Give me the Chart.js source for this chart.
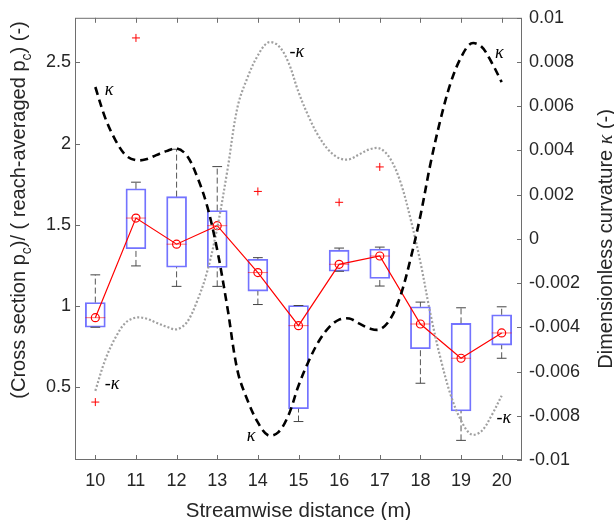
<!DOCTYPE html>
<html>
<head>
<meta charset="utf-8">
<script src="https://cdn.jsdelivr.net/npm/chart.js@4.4.1/dist/chart.umd.min.js"></script>
<style>
  html, body { margin: 0; padding: 0; background: #fff; }
  #wrap { width: 614px; height: 520px; }
</style>
</head>
<body>
<div id="wrap"><canvas id="pcChart" width="614" height="520"></canvas></div>
<script>
// streamwise stations (m)
const dist = [10, 11, 12, 13, 14, 15, 16, 17, 18, 19, 20];

// box plot statistics, normalised p_c
const q1 = [0.868, 1.352, 1.238, 1.236, 1.091, 0.366, 1.213, 1.169, 0.736, 0.352, 0.758];
const q3 = [1.020, 1.721, 1.673, 1.587, 1.287, 1.002, 1.343, 1.350, 0.994, 0.892, 0.945];
const medians = [0.927, 1.541, 1.380, 1.494, 1.205, 0.878, 1.256, 1.307, 0.888, 0.677, 0.833];
const whiskLo = [0.868, 1.246, 1.120, 1.120, 1.008, 0.287, 1.213, 1.122, 0.523, 0.171, 0.677];
const whiskHi = [1.191, 1.762, 1.965, 1.858, 1.297, 1.002, 1.356, 1.362, 1.023, 0.988, 0.994];

// outliers
const outX = [10, 11, 14, 16, 17];
const outY = [0.407, 2.651, 1.705, 1.638, 1.856];

// curvature along the reach
const kx = [10, 10.25, 10.5, 10.75, 11, 11.25, 11.5, 11.75, 12, 12.25, 12.5, 12.75, 13, 13.25, 13.5, 13.75,
  14, 14.25, 14.5, 14.75, 15, 15.25, 15.5, 15.75, 16, 16.25, 16.5, 16.75, 17, 17.25, 17.5, 17.75,
  18, 18.25, 18.5, 18.75, 19, 19.25, 19.5, 19.75, 20];
const kappa = [0.00687, 0.00544, 0.00445, 0.00378, 0.00356, 0.00360, 0.00379, 0.00397, 0.00409, 0.00378,
  0.00284, 0.00150, -0.00050, -0.00310, -0.00597, -0.00732, -0.00830, -0.00888, -0.00875, -0.00799,
  -0.00664, -0.00553, -0.00463, -0.00400, -0.00365, -0.00360, -0.00383, -0.00405, -0.00409, -0.00365,
  -0.00262, -0.00096, 0.00105, 0.00342, 0.00544, 0.00709, 0.00821, 0.00884, 0.00870, 0.00799, 0.00709];
const negKappa = [-0.00687, -0.00544, -0.00445, -0.00378, -0.00356, -0.00360, -0.00379, -0.00397, -0.00409, -0.00378,
  -0.00284, -0.00150, 0.00050, 0.00310, 0.00597, 0.00732, 0.00830, 0.00888, 0.00875, 0.00799,
  0.00664, 0.00553, 0.00463, 0.00400, 0.00365, 0.00360, 0.00383, 0.00405, 0.00409, 0.00365,
  0.00262, 0.00096, -0.00105, -0.00342, -0.00544, -0.00709, -0.00821, -0.00884, -0.00870, -0.00799, -0.00709];

// curve tags (data coordinates on the curvature axis)
const tagText = ['\u03BA', '-\u03BA', '\u03BA', '-\u03BA', '\u03BA', '-\u03BA'];
const tagX = [10.34, 14.96, 19.94, 10.41, 13.83, 20.05];
const tagK = [0.0067, 0.00843, 0.00839, -0.00657, -0.00893, -0.00812];

// tick labels
const xTicks = [10, 11, 12, 13, 14, 15, 16, 17, 18, 19, 20];
const leftTicks = [0.5, 1, 1.5, 2, 2.5];
const rightTicks = [-0.01, -0.008, -0.006, -0.004, -0.002, 0, 0.002, 0.004, 0.006, 0.008, 0.01];

const FONT = '"Liberation Sans", Arial, Helvetica, sans-serif';
const KFONT = '"Liberation Serif", "DejaVu Serif", serif';
const BOX_HALF = 0.245;
const CAP_HALF = 0.12;

const gap = d => ({ x: d, y: null });

const boxData = dist.map((d, i) => ({ x: d, y: [q1[i], q3[i]] }));
const whiskData = dist.flatMap((d, i) => [
  { x: d, y: q3[i] }, { x: d, y: whiskHi[i] }, gap(d),
  { x: d, y: whiskLo[i] }, { x: d, y: q1[i] }, gap(d)
]);
const capData = dist.flatMap((d, i) => [
  { x: d - CAP_HALF, y: whiskHi[i] }, { x: d + CAP_HALF, y: whiskHi[i] }, gap(d),
  { x: d - CAP_HALF, y: whiskLo[i] }, { x: d + CAP_HALF, y: whiskLo[i] }, gap(d)
]);
const medData = dist.flatMap((d, i) => [
  { x: d - BOX_HALF, y: medians[i] }, { x: d + BOX_HALF, y: medians[i] }, gap(d)
]);

function drawRich(ctx, parts, size) {
  // centred on 0 along the baseline; sub = subscript, it = italic kappa
  const fontOf = p => p.it ? 'italic ' + size + 'px ' + KFONT
    : (p.sub ? size * 0.7 : size) + 'px ' + FONT;
  let w = 0;
  parts.forEach(p => {
    ctx.font = fontOf(p);
    p.w = ctx.measureText(p.t).width;
    w += p.w;
  });
  let cx = -w / 2;
  parts.forEach(p => {
    ctx.font = fontOf(p);
    ctx.fillText(p.t, cx, p.sub ? size * 0.3 : 0);
    cx += p.w;
  });
}

const decor = {
  id: 'decor',
  afterDraw(chart) {
    const { ctx, chartArea: a, scales } = chart;
    const x = scales.x, y = scales.y, y2 = scales.y2;
    ctx.save();
    ctx.strokeStyle = '#6e6e6e';
    ctx.lineWidth = 1;
    ctx.strokeRect(a.left + 0.5, a.top + 0.5, a.right - a.left - 1, a.bottom - a.top - 1);

    const TL = 5;
    ctx.beginPath();
    x.ticks.forEach(t => {
      const px = Math.round(x.getPixelForValue(t.value)) + 0.5;
      ctx.moveTo(px, a.bottom); ctx.lineTo(px, a.bottom - TL);
      ctx.moveTo(px, a.top); ctx.lineTo(px, a.top + TL);
    });
    y.ticks.forEach(t => {
      const py = Math.round(y.getPixelForValue(t.value)) + 0.5;
      ctx.moveTo(a.left, py); ctx.lineTo(a.left + TL, py);
    });
    y2.ticks.forEach(t => {
      const py = Math.round(y2.getPixelForValue(t.value)) + 0.5;
      ctx.moveTo(a.right, py); ctx.lineTo(a.right - TL, py);
    });
    ctx.stroke();

    // curve tags
    ctx.fillStyle = '#000';
    ctx.font = 'italic 18px ' + KFONT;
    ctx.textAlign = 'center';
    ctx.textBaseline = 'middle';
    tagText.forEach((s, i) => {
      ctx.fillText(s, x.getPixelForValue(tagX[i]), y2.getPixelForValue(tagK[i]));
    });

    // axis titles
    ctx.fillStyle = '#262626';
    ctx.textAlign = 'left';
    ctx.textBaseline = 'alphabetic';
    ctx.save();
    ctx.translate((a.left + a.right) / 2, 517);
    drawRich(ctx, [{ t: 'Streamwise distance (m)' }], 20.5);
    ctx.restore();

    ctx.save();
    ctx.translate(25, 210);
    ctx.rotate(-Math.PI / 2);
    drawRich(ctx, [
      { t: '(Cross section p' }, { t: 'c', sub: true },
      { t: ')/ ( reach-averaged p' }, { t: 'c', sub: true },
      { t: ') (-)' }
    ], 20);
    ctx.restore();

    ctx.save();
    ctx.translate(612, (a.top + a.bottom) / 2);
    ctx.rotate(-Math.PI / 2);
    drawRich(ctx, [
      { t: 'Dimensionless curvature ' }, { t: '\u03BA', it: true }, { t: ' (-)' }
    ], 20);
    ctx.restore();

    ctx.restore();
  }
};

const tickFont = { family: FONT, size: 18 };
const noGrid = { display: false, drawTicks: false };

new Chart(document.getElementById('pcChart'), {
  type: 'bar',
  data: {
    datasets: [
      {
        type: 'line', data: kx.map((v, i) => ({ x: v, y: kappa[i] })), yAxisID: 'y2',
        borderColor: '#000', borderWidth: 2.6, borderDash: [8, 5], tension: 0.35,
        pointRadius: 0, fill: false, order: 0
      },
      {
        type: 'line', data: kx.map((v, i) => ({ x: v, y: negKappa[i] })), yAxisID: 'y2',
        borderColor: '#a0a0a0', borderWidth: 2.2, borderDash: [2, 2], tension: 0.35,
        pointRadius: 0, fill: false, order: 1
      },
      {
        type: 'line', data: dist.map((d, i) => ({ x: d, y: medians[i] })), yAxisID: 'y',
        borderColor: '#ff0000', borderWidth: 1.2, tension: 0,
        pointStyle: 'circle', pointRadius: 4, pointBorderWidth: 1.2,
        pointBorderColor: '#ff0000', pointBackgroundColor: 'rgba(0,0,0,0)', order: 2
      },
      {
        type: 'scatter', data: outX.map((d, i) => ({ x: d, y: outY[i] })), yAxisID: 'y',
        pointStyle: 'cross', pointRadius: 4, borderColor: '#ff0000', borderWidth: 1, order: 3
      },
      {
        type: 'line', data: medData, yAxisID: 'y', spanGaps: false,
        borderColor: 'rgba(255,0,0,0.55)', borderWidth: 1, pointRadius: 0, order: 4
      },
      {
        type: 'line', data: capData, yAxisID: 'y', spanGaps: false,
        borderColor: '#444', borderWidth: 1, pointRadius: 0, order: 5
      },
      {
        type: 'line', data: whiskData, yAxisID: 'y', spanGaps: false,
        borderColor: '#555', borderWidth: 1, borderDash: [6, 3], pointRadius: 0, order: 6
      },
      {
        type: 'bar', data: boxData, yAxisID: 'y',
        backgroundColor: 'rgba(0,0,0,0)', borderColor: 'rgba(0,0,255,0.55)',
        borderWidth: 1.2, borderSkipped: false, barThickness: 20, order: 7
      }
    ]
  },
  options: {
    responsive: false,
    animation: false,
    events: [],
    layout: { padding: { top: 13, left: 0, right: 0, bottom: 0 } },
    plugins: { legend: { display: false }, tooltip: { enabled: false } },
    scales: {
      x: {
        type: 'linear', min: 9.5, max: 20.5, offset: false,
        grid: noGrid, border: { display: false },
        afterBuildTicks: s => { s.ticks = xTicks.map(v => ({ value: v })); },
        afterFit: s => { s.height = 60; },
        ticks: { font: tickFont, color: '#262626', padding: 10, maxRotation: 0, autoSkip: false }
      },
      y: {
        position: 'left', min: 0.05, max: 2.775,
        grid: noGrid, border: { display: false },
        afterBuildTicks: s => { s.ticks = leftTicks.map(v => ({ value: v })); },
        afterFit: s => { s.width = 75; },
        ticks: { font: tickFont, color: '#262626', padding: 4, callback: v => String(v) }
      },
      y2: {
        position: 'right', min: -0.01, max: 0.01,
        grid: noGrid, border: { display: false },
        afterBuildTicks: s => { s.ticks = rightTicks.map(v => ({ value: v })); },
        afterFit: s => { s.width = 92; },
        ticks: { font: tickFont, color: '#262626', padding: 7, callback: v => String(Number(v.toFixed(3))) }
      }
    }
  },
  plugins: [decor]
});
</script>
</body>
</html>
